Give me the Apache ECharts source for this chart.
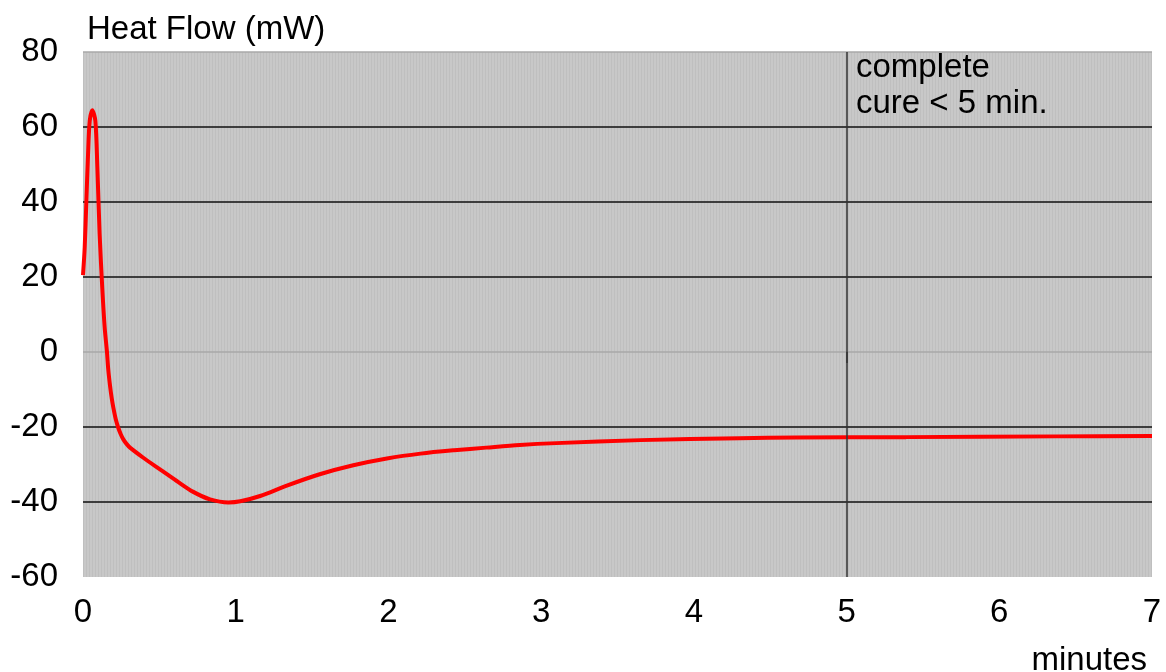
<!DOCTYPE html>
<html>
<head>
<meta charset="utf-8">
<script src="https://cdn.jsdelivr.net/npm/echarts@6/dist/echarts.min.js"></script>
<style>
html,body{margin:0;padding:0;background:#fff;}
#c{width:1166px;height:672px;}
</style>
</head>
<body>
<div id="c"></div>
<script>
// Data
const minutes = [0, 0.011, 0.022, 0.033, 0.044, 0.061, 0.081, 0.094, 0.109, 0.126, 0.142, 0.157,
  0.165, 0.177, 0.188, 0.199, 0.215, 0.231, 0.248, 0.264, 0.285, 0.308, 0.395, 0.504, 0.614, 0.722, 0.832, 0.952, 1.03, 1.16, 1.33,
  1.55, 1.77, 1.99, 2.21, 2.43, 2.64, 2.86, 3.1, 3.65, 4.3, 4.67, 5.39, 6.37, 7.0];
const heatFlow = [20.5, 27.8, 40.2, 52.7, 61.6, 64.5, 61.6, 49.2, 31.4, 17.2, 6.5, 0,
  -4.5, -9.0, -12.3, -14.9, -18.0, -20.2, -22.0, -23.3, -24.5, -25.5, -28.2, -31.3, -34.4, -37.3, -39.3, -40.1, -39.8, -38.4, -35.7,
  -32.6, -30.2, -28.4, -27.1, -26.2, -25.5, -24.8, -24.3, -23.5, -23.0, -22.8, -22.7, -22.5, -22.4];
const xTicks = [0, 1, 2, 3, 4, 5, 6, 7];
const yTicks = [-60, -40, -20, 0, 20, 40, 60, 80];
const cureMarker = 5;

const chart = echarts.init(document.getElementById('c'), null, {renderer: 'canvas'});

// striped grey background pattern
const pc = document.createElement('canvas');
pc.width = 3; pc.height = 4;
const pctx = pc.getContext('2d');
pctx.fillStyle = '#c8c8c8'; pctx.fillRect(0, 0, 3, 4);
pctx.fillStyle = '#bfbfbf'; pctx.fillRect(2, 0, 1, 4);

const font = '"Liberation Sans", Arial, sans-serif';
const splitColors = yTicks.map(v => v === -60 ? 'rgba(0,0,0,0)' : (v === 0 || v === 80) ? '#a8a8a8' : '#111111');

chart.setOption({
  animation: false,
  backgroundColor: '#ffffff',
  title: [
    {text: 'Heat Flow (mW)', left: 82, top: 8, textStyle: {fontFamily: font, fontSize: 33, fontWeight: 'normal', color: '#000'}},
    {text: 'minutes', right: 14, top: 639, textStyle: {fontFamily: font, fontSize: 33, fontWeight: 'normal', color: '#000'}},
    {text: 'complete\ncure < 5 min.', left: 851, top: 45, textStyle: {fontFamily: font, fontSize: 33, fontWeight: 'normal', color: '#000', lineHeight: 36}}
  ],
  grid: {
    left: 83, right: 14, top: 52, bottom: 95,
    show: true,
    backgroundColor: {image: pc, repeat: 'repeat'},
    borderWidth: 0
  },
  xAxis: {
    type: 'value', min: xTicks[0], max: xTicks[xTicks.length - 1], interval: 1,
    axisLine: {show: false},
    axisTick: {show: true, customValues: [cureMarker], length: 11, lineStyle: {color: '#333', width: 1.5}},
    splitLine: {show: false},
    axisLabel: {fontFamily: font, fontSize: 33, color: '#000', margin: 19}
  },
  yAxis: {
    type: 'value', min: yTicks[0], max: yTicks[yTicks.length - 1], interval: 20,
    axisLine: {show: false},
    axisTick: {show: false},
    axisLabel: {fontFamily: font, fontSize: 33, color: '#000', margin: 25},
    splitLine: {show: true, lineStyle: {color: splitColors, width: 1.5}}
  },
  series: [{
    type: 'line',
    data: minutes.map((m, i) => [m, heatFlow[i]]),
    showSymbol: false,
    smooth: 0.3,
    lineStyle: {color: '#ff0000', width: 4},
    markLine: {
      silent: true,
      symbol: 'none',
      label: {show: false},
      lineStyle: {color: '#333', width: 1.5, type: 'solid'},
      data: [{xAxis: cureMarker}]
    }
  }]
});
</script>
</body>
</html>
